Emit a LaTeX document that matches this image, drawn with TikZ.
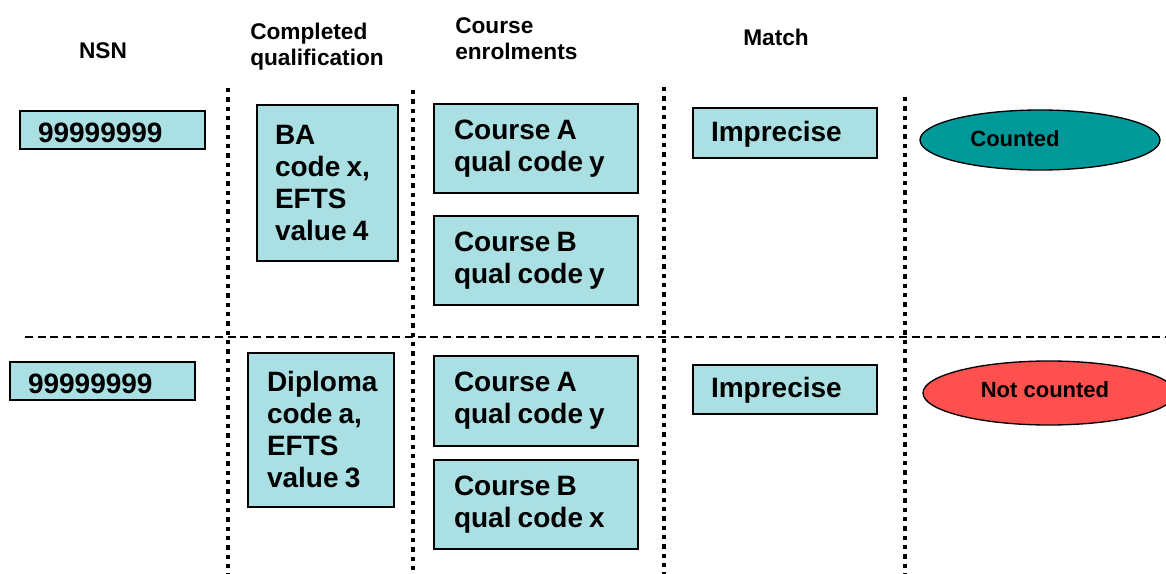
\documentclass[tikz,border=0pt]{standalone}
\usepackage{fontspec}
\setmainfont{Liberation Sans}
\usetikzlibrary{shapes.geometric}
\definecolor{boxfill}{RGB}{170,224,227}
\definecolor{tealfill}{RGB}{0,153,153}
\definecolor{redfill}{RGB}{255,80,80}
\newcommand\boxfont{\fontsize{21}{24}\selectfont\bfseries}
\newcommand\tightspaces{\spaceskip=0.22em plus 0.05em\relax}
\tikzset{
  hdr/.style={font=\fontsize{17}{19.5}\selectfont\bfseries, align=left, inner sep=0pt},
  box/.style={draw=black, line width=1pt, fill=boxfill, rectangle, align=left,
    font=\boxfont, inner ysep=0pt, execute at begin node=\tightspaces},
  oval/.style={draw=black, line width=1pt, ellipse, inner sep=0pt},
  ovaltext/.style={font=\fontsize{16.5}{19}\selectfont\bfseries, inner sep=0pt},
  sep/.style={line width=3.4pt, dash pattern=on 3.3pt off 3.7pt},
  rowsep/.style={line width=1.1pt, dash pattern=on 6pt off 3.5pt},
}
\begin{document}
\begin{tikzpicture}[x=0.75pt,y=-0.75pt]
\useasboundingbox (0,0) rectangle (1166,574);
% headers
\node[hdr] (hnsn) at (103,51) {NSN};
\node[hdr, anchor=west] (hqual) at (250,46.5) {Completed\\qualification};
\node[hdr, anchor=west] (henr) at (455,39) {Course\\enrolments};
\node[hdr] (hmatch) at (776,37) {Match};
% separators
\coordinate (s1t) at (228,88);  \coordinate (s1b) at (228,574);
\coordinate (s2t) at (413,90);  \coordinate (s2b) at (413,574);
\coordinate (s3t) at (664,87);  \coordinate (s3b) at (664,574);
\coordinate (s4t) at (905,97);  \coordinate (s4b) at (905,574);
\coordinate (hl) at (25,337);   \coordinate (hr) at (1166,337);
\draw[rowsep] (hl) -- (hr);
\draw[sep] (s1t) -- (s1b);
\draw[sep] (s2t) -- (s2b);
\draw[sep] (s3t) -- (s3b);
\draw[sep] (s4t) -- (s4b);
% row 1
\node[box, text width={(185-36)*0.75pt}, inner xsep=13.5pt, text height=19pt, minimum height={38*0.75pt}] (nsn1) at (112.5,130) {99999999};
\node[box, text width={(141-36)*0.75pt}, inner xsep=13.5pt, minimum height={156*0.75pt}] (ba) at (327.5,183) {BA\\code x,\\EFTS\\value 4};
\node[box, text width={(204-40)*0.75pt}, inner xsep=15pt, minimum height={89*0.75pt}] (ca1) at (536,148.5) {Course A\\qual code y};
\node[box, text width={(204-40)*0.75pt}, inner xsep=15pt, minimum height={89*0.75pt}] (cb1) at (536,260.5) {Course B\\qual code y};
\node[box, text width={(184-36)*0.75pt}, inner xsep=13.5pt, text height=17pt, minimum height={50*0.75pt}] (imp1) at (785,133) {Imprecise};
\node[oval, fill=tealfill, minimum width={240*0.75pt}, minimum height={60*0.75pt}] (cnt) at (1040,140) {};
\node[ovaltext] (cntt) at (1015,139) {Counted};
% row 2
\node[box, text width={(185-36)*0.75pt}, inner xsep=13.5pt, text height=19pt, minimum height={38*0.75pt}] (nsn2) at (102.5,381) {99999999};
\node[box, text width={(146-38)*0.75pt}, inner xsep=14.25pt, minimum height={154*0.75pt}] (dip) at (321,430) {Diploma\\code a,\\EFTS\\value 3};
\node[box, text width={(204-40)*0.75pt}, inner xsep=15pt, minimum height={90*0.75pt}] (ca2) at (536,401) {Course A\\qual code y};
\node[box, text width={(204-40)*0.75pt}, inner xsep=15pt, minimum height={89*0.75pt}] (cb2) at (536,504.5) {Course B\\qual code x};
\node[box, text width={(184-36)*0.75pt}, inner xsep=13.5pt, text height=17pt, minimum height={49*0.75pt}] (imp2) at (785,389.5) {Imprecise};
\node[oval, fill=redfill, minimum width={252*0.75pt}, minimum height={64*0.75pt}] (nc) at (1049,393) {};
\node[ovaltext] (nct) at (1045,390) {Not counted};
\end{tikzpicture}
\end{document}
